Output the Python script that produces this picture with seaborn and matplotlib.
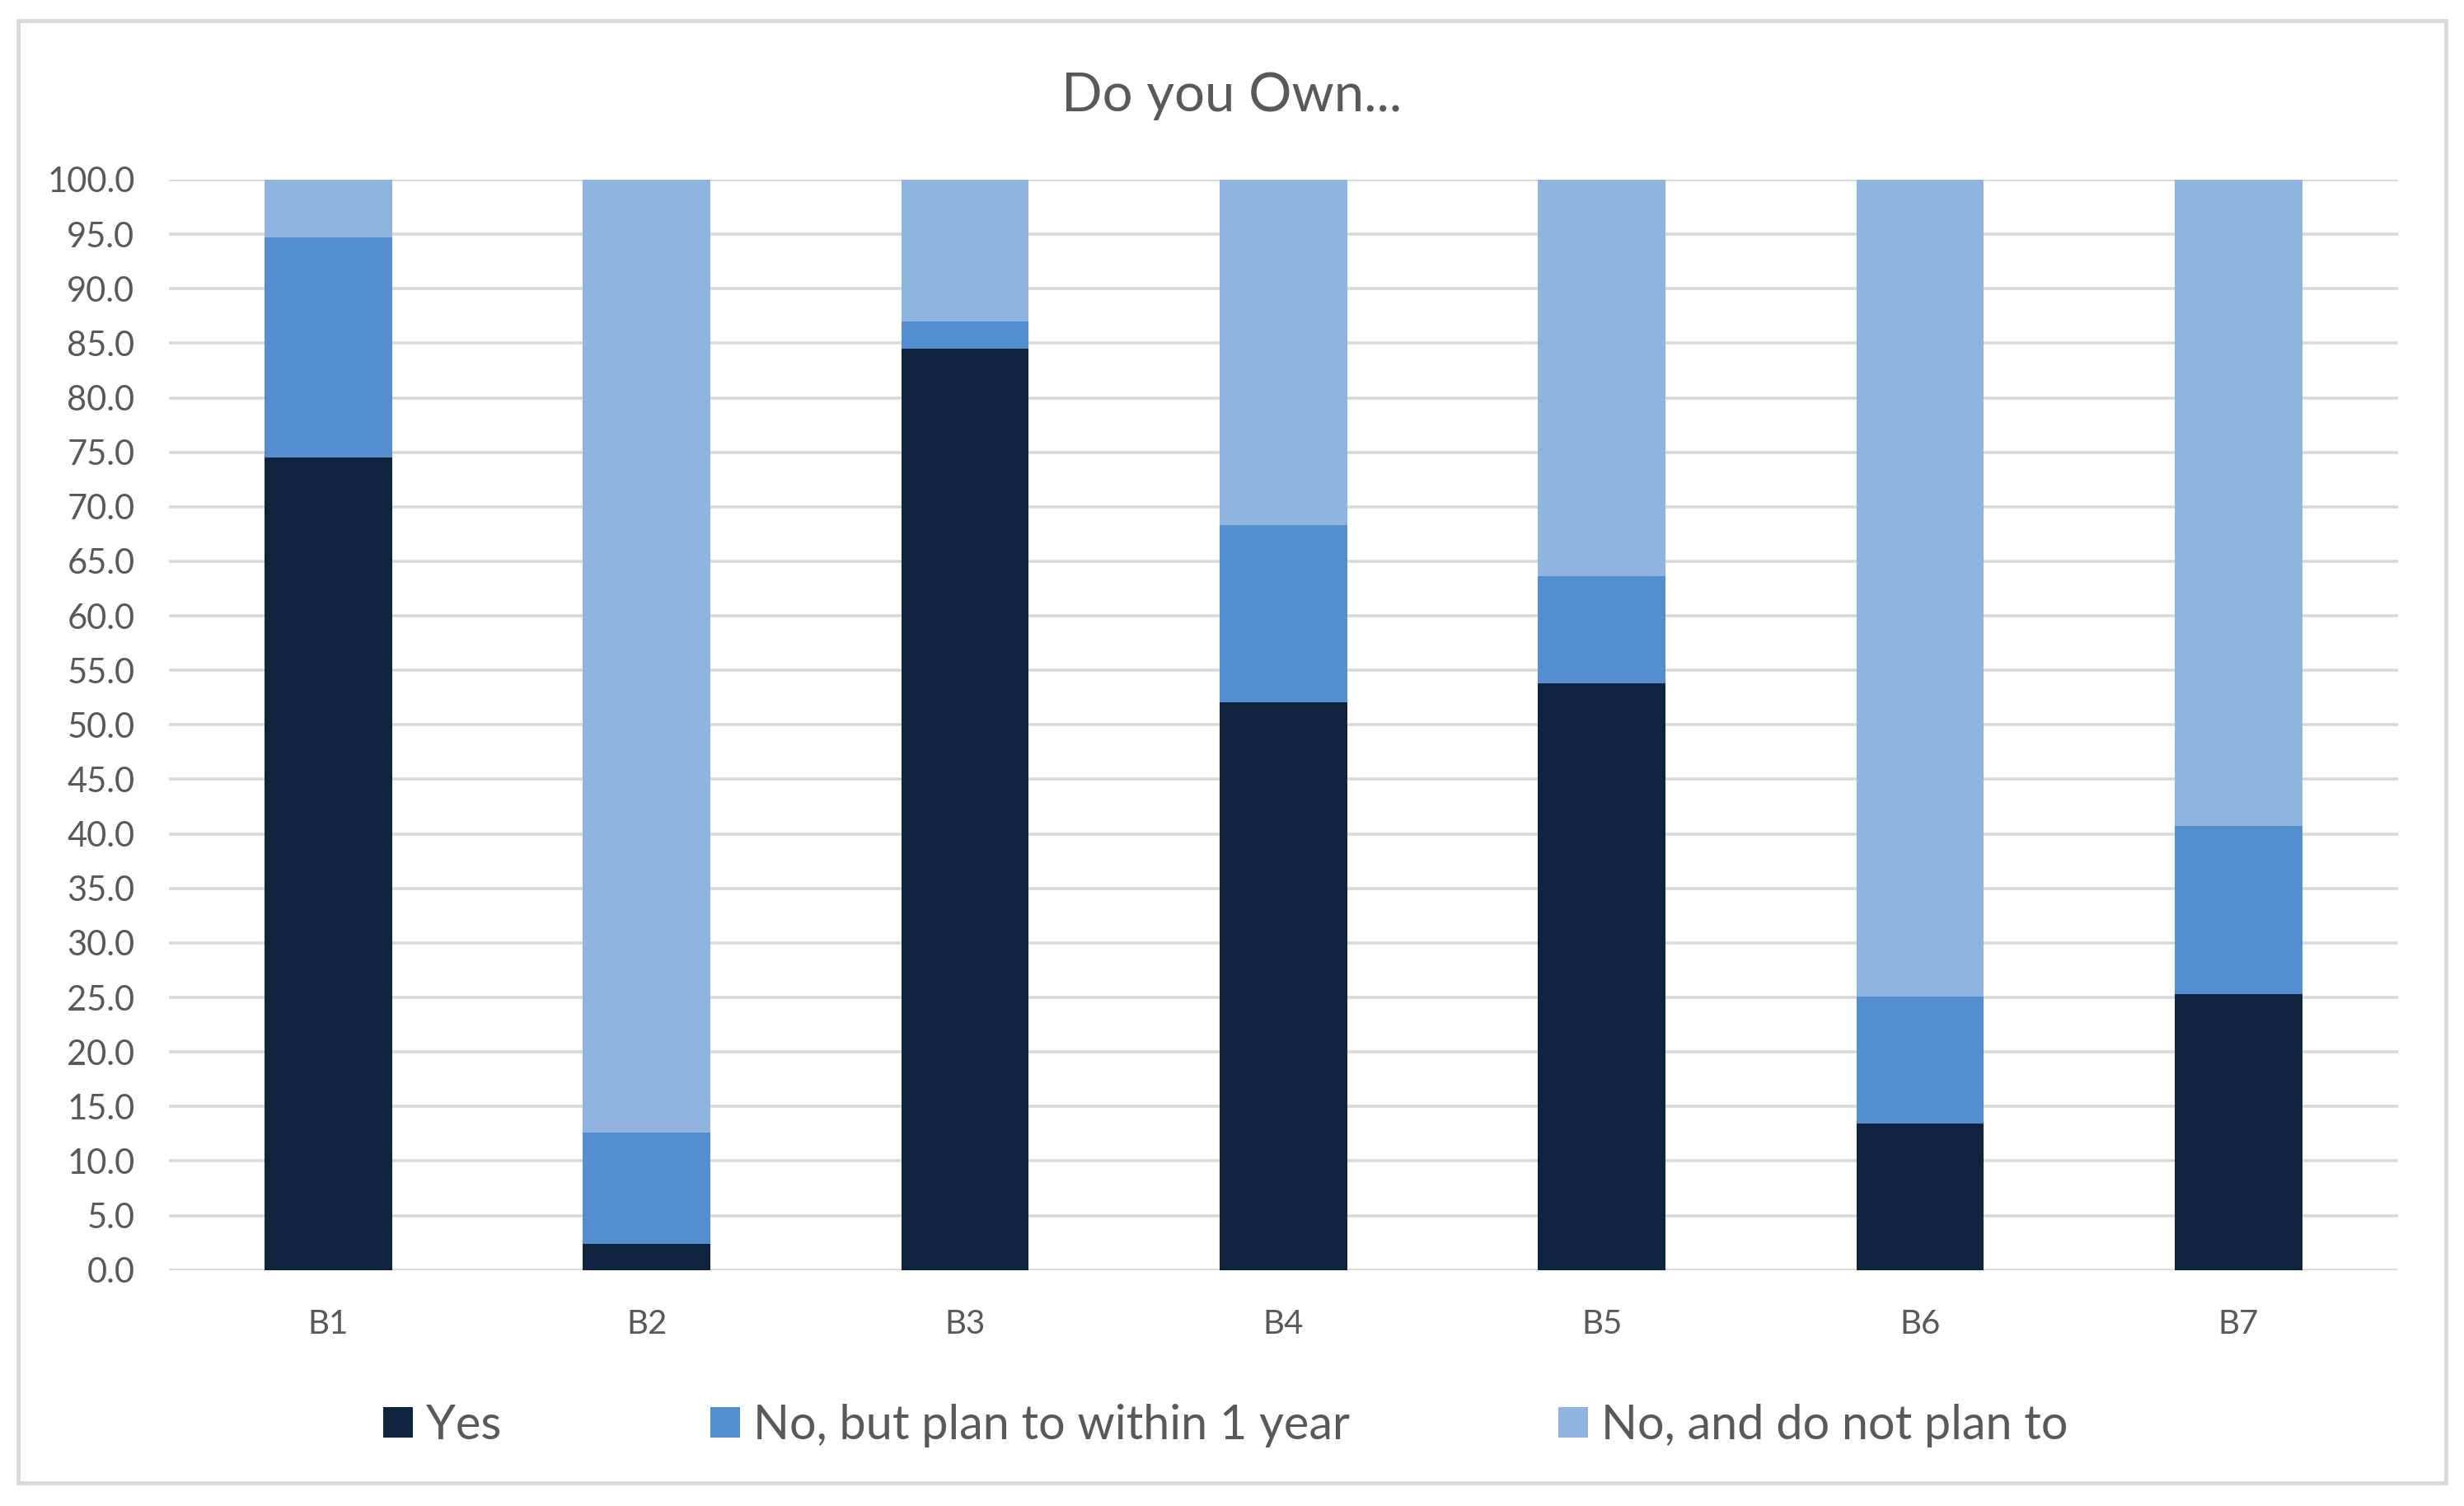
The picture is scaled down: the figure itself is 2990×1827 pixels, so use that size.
import numpy as np
import pandas as pd
import matplotlib
matplotlib.use("Agg")
import matplotlib.pyplot as plt
import seaborn as sns
from matplotlib.patches import Rectangle

# data (percent of respondents)
categories = ["B1", "B2", "B3", "B4", "B5", "B6", "B7"]
yes = [74.5, 2.4, 84.5, 52.1, 53.8, 13.4, 25.3]
plan_within_year = [20.2, 10.2, 2.5, 16.2, 9.8, 11.7, 15.4]
no_plan = [5.3, 87.4, 13.0, 31.7, 36.4, 74.9, 59.3]
series_names = ["Yes", "No, but plan to within 1 year", "No, and do not plan to"]
series_colors = ["#10243F", "#558ED0", "#8FB4E0"]
y_ticks = np.arange(0, 101, 5)

sns.set_theme(style="white")
plt.rcParams["font.family"] = ["Lato", "DejaVu Sans"]
text_color = "#595959"
grid_color = "#D9D9D9"

# cumulative tops for the stacked bars
df = pd.DataFrame({"cat": categories, "yes": yes, "plan": plan_within_year, "no": no_plan})
df["top_yes"] = df["yes"]
df["top_plan"] = df["yes"] + df["plan"]
df["top_no"] = df["yes"] + df["plan"] + df["no"]

fig = plt.figure(figsize=(29.9, 18.27), dpi=100)
ax = fig.add_axes([0.0686, 0.1567, 0.9045, 0.7240])

# draw back to front: full stack, then yes+plan, then yes
for col, name, color in zip(["top_no", "top_plan", "top_yes"], series_names[::-1], series_colors[::-1]):
    sns.barplot(data=df, x="cat", y=col, color=color, saturation=1, width=0.4,
                linewidth=0, label=name, ax=ax, zorder=3)

ax.set_xlim(-0.5, len(categories) - 0.5)
ax.set_ylim(0, 100)
ax.set_yticks(y_ticks)
ax.set_yticklabels([f"{v:.1f}" for v in y_ticks])
ax.set_xlabel("")
ax.set_ylabel("")
ax.yaxis.grid(True, color=grid_color, linewidth=2.6, zorder=0)
ax.xaxis.grid(False)
ax.set_axisbelow(True)
for s in ax.spines.values():
    s.set_visible(False)
ax.tick_params(axis="y", length=0, pad=30, labelsize=30, labelcolor=text_color)
ax.tick_params(axis="x", length=0, pad=34, labelsize=29, labelcolor=text_color)
if ax.get_legend() is not None:
    ax.get_legend().remove()

fig.text(0.5, 0.9365, "Do you Own...", ha="center", va="center",
         fontsize=47, color=text_color)

handles, labels = ax.get_legend_handles_labels()
order = [labels.index(n) for n in series_names]
fig.legend([handles[i] for i in order], [labels[i] for i in order],
           loc="center", bbox_to_anchor=(0.4975, 0.0535), ncol=3, frameon=False,
           fontsize=41.5, labelcolor=text_color, handlelength=0.62, handleheight=0.62,
           handletextpad=0.28, columnspacing=4.4)

# light border around the whole chart
fig.patches.append(Rectangle((22 / 2990, 1 - 1799 / 1827), (2968 - 22) / 2990, (1799 - 25) / 1827,
                             transform=fig.transFigure, fill=False, ec=grid_color, lw=3.5))

fig.savefig("out.png", dpi=100)
